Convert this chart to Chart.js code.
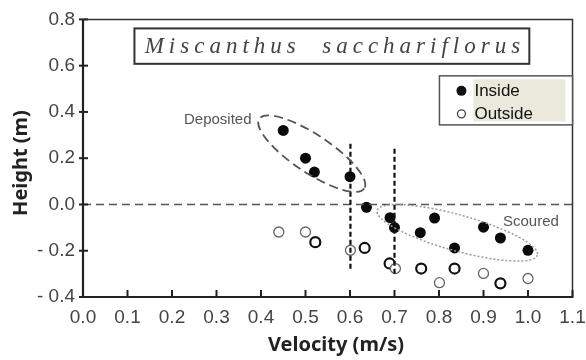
<!DOCTYPE html>
<html>
<head>
<meta charset="utf-8">
<script src="https://cdn.jsdelivr.net/npm/chart.js@4"></script>
<style>
  html, body { margin: 0; padding: 0; background: #fff; }
  #wrap { width: 586px; height: 360px; }
</style>
</head>
<body>
<div id="wrap"><canvas id="myChart" width="586" height="360"></canvas></div>
<script>
// ===== Data =====
const insideX  = [0.45, 0.50, 0.52, 0.60, 0.637, 0.69, 0.70, 0.758, 0.79, 0.835, 0.90, 0.938, 1.00];
const insideY  = [0.32, 0.20, 0.14, 0.12, -0.012, -0.057, -0.10, -0.122, -0.059, -0.188, -0.098, -0.145, -0.198];
const outsideX = [0.44, 0.50, 0.522, 0.601, 0.633, 0.689, 0.702, 0.76, 0.801, 0.835, 0.90, 0.938, 1.00];
const outsideY = [-0.119, -0.119, -0.163, -0.198, -0.188, -0.255, -0.277, -0.277, -0.338, -0.277, -0.298, -0.341, -0.320];

const xTickLabels = ["0.0", "0.1", "0.2", "0.3", "0.4", "0.5", "0.6", "0.7", "0.8", "0.9", "1.0", "1.1"];
const yTickLabels = ["- 0.4", "- 0.2", "0.0", "0.2", "0.4", "0.6", "0.8"];

const seriesNames = ["Inside", "Outside"];
const plantName = "Miscanthus  sacchariflorus";

// open circles drawn with a heavier black ring in the original
const heavyOutside = [2, 4, 5, 7, 9, 11];

const toPoints = (xs, ys) => xs.map((x, i) => ({ x: x, y: ys[i] }));

// ===== Annotation plugin: frame, ticks, guide lines, ellipses, boxes, labels =====
const overlay = {
  id: 'overlay',
  afterDraw(chart) {
    const c = chart.ctx, a = chart.chartArea;
    const sx = chart.scales.x, sy = chart.scales.y;
    const px = v => sx.getPixelForValue(v), py = v => sy.getPixelForValue(v);
    c.save();

    // zero line
    c.strokeStyle = '#555'; c.lineWidth = 1.5; c.setLineDash([8, 5]);
    c.beginPath(); c.moveTo(a.left, py(0)); c.lineTo(a.right, py(0)); c.stroke();

    // vertical dashed guides
    c.strokeStyle = '#111'; c.lineWidth = 2.2; c.setLineDash([5, 3]);
    [[0.601, 0.262, -0.288], [0.70, 0.241, -0.31]].forEach(g => {
      c.beginPath(); c.moveTo(px(g[0]), py(g[1])); c.lineTo(px(g[0]), py(g[2])); c.stroke();
    });

    // ellipses given by major-axis end points (data) and half width (px)
    function ellipse(x1, y1, x2, y2, half, color, dash, w) {
      const ax = px(x1), ay = py(y1), bx = px(x2), by = py(y2);
      const cx = (ax + bx) / 2, cy = (ay + by) / 2;
      const r = Math.hypot(bx - ax, by - ay) / 2;
      c.strokeStyle = color; c.lineWidth = w; c.setLineDash(dash);
      c.beginPath(); c.ellipse(cx, cy, r, half, Math.atan2(by - ay, bx - ax), 0, Math.PI * 2); c.stroke();
    }
    ellipse(0.396, 0.370, 0.632, 0.069, 19, '#555', [9, 5], 1.8);
    ellipse(0.661, -0.026, 1.021, -0.219, 18, '#999', [2, 2], 1.5);
    c.setLineDash([]);

    // text labels
    c.fillStyle = '#555'; c.font = '15px "Liberation Sans", Arial, sans-serif';
    c.textBaseline = 'middle'; c.textAlign = 'left';
    c.fillText('Deposited', 184, 120);
    c.fillText('Scoured', 503, 222);

    // frame: heavy left/bottom, light top/right
    c.strokeStyle = '#333'; c.lineWidth = 1.5;
    c.beginPath(); c.moveTo(a.left, a.top); c.lineTo(a.right, a.top); c.lineTo(a.right, a.bottom); c.stroke();
    c.strokeStyle = '#222'; c.lineWidth = 2.2;
    c.beginPath(); c.moveTo(a.left, a.top); c.lineTo(a.left, a.bottom); c.lineTo(a.right, a.bottom); c.stroke();

    // ticks
    c.lineWidth = 2;
    sx.ticks.forEach(t => { const x = px(t.value); c.beginPath(); c.moveTo(x, a.bottom - 7); c.lineTo(x, a.bottom + 1); c.stroke(); });
    sy.ticks.forEach(t => { const y = py(t.value); c.beginPath(); c.moveTo(a.left - 4, y); c.lineTo(a.left + 5, y); c.stroke(); });

    // species title box
    const tx1 = px(0.1156), tx2 = px(1.003), ty1 = py(0.761), ty2 = py(0.608);
    c.fillStyle = '#fff'; c.fillRect(tx1, ty1, tx2 - tx1, ty2 - ty1);
    c.strokeStyle = '#333'; c.lineWidth = 2; c.strokeRect(tx1, ty1, tx2 - tx1, ty2 - ty1);
    c.fillStyle = '#444'; c.font = 'italic 23px "Liberation Serif", "DejaVu Serif", serif';
    c.letterSpacing = '5px'; c.textAlign = 'center';
    c.fillText(plantName, (tx1 + tx2) / 2 + 3, (ty1 + ty2) / 2 + 1);
    c.letterSpacing = '0px';

    // legend box
    const lx1 = px(0.801), ly1 = py(0.556), ly2 = py(0.344);
    c.fillStyle = '#fff'; c.fillRect(lx1, ly1, a.right - lx1, ly2 - ly1);
    c.fillStyle = '#ebe8dc'; c.fillRect(lx1 + 34, ly1 + 3.5, 92, ly2 - ly1 - 7);
    c.strokeStyle = '#555'; c.lineWidth = 1.5; c.strokeRect(lx1, ly1, a.right - lx1, ly2 - ly1);
    c.fillStyle = '#111'; c.beginPath(); c.arc(lx1 + 22, ly1 + 15, 5, 0, Math.PI * 2); c.fill();
    c.strokeStyle = '#444'; c.lineWidth = 1.3; c.beginPath(); c.arc(lx1 + 22, ly1 + 38, 4, 0, Math.PI * 2); c.stroke();
    c.fillStyle = '#111'; c.font = '17px "Liberation Sans", Arial, sans-serif'; c.textAlign = 'left';
    c.fillText(seriesNames[0], lx1 + 35, ly1 + 15);
    c.fillText(seriesNames[1], lx1 + 35, ly1 + 38);

    // axis titles
    c.fillStyle = '#222'; c.font = 'bold 20px "Noto Sans", "Open Sans", sans-serif'; c.textAlign = 'center';
    c.fillText('Velocity (m/s)', 336, 345);
    c.translate(21, 163); c.rotate(-Math.PI / 2);
    c.fillText('Height (m)', 0, 0);
    c.restore();
  }
};

// ===== Chart.js Initialization =====
let ctx = document.getElementById('myChart').getContext('2d');
let chart = new Chart(ctx, {
  type: 'scatter',
  data: {
    datasets: [{
      label: seriesNames[0],
      data: toPoints(insideX, insideY),
      backgroundColor: '#0a0a0a',
      borderColor: '#0a0a0a',
      pointRadius: 5.5,
      pointBorderWidth: 0
    }, {
      label: seriesNames[1],
      data: toPoints(outsideX, outsideY),
      backgroundColor: '#fff',
      borderColor: c => heavyOutside.includes(c.dataIndex) ? '#111' : '#666',
      pointRadius: 5,
      pointBorderWidth: c => heavyOutside.includes(c.dataIndex) ? 2.2 : 1.3
    }]
  },
  options: {
    responsive: false,
    animation: false,
    layout: { padding: { left: 0, right: 0, top: 17, bottom: 0 } },
    plugins: { legend: { display: false }, tooltip: { enabled: false } },
    scales: {
      x: {
        type: 'linear', min: 0, max: 1.1,
        afterFit: s => { s.height = 63; s.paddingRight = 13.5; },
        border: { display: false },
        grid: { display: false, drawTicks: false },
        ticks: {
          stepSize: 0.1, padding: 9, color: '#444',
          font: { family: '"Liberation Sans", Arial, sans-serif', size: 19 },
          callback: (v, i) => xTickLabels[i]
        }
      },
      y: {
        type: 'linear', min: -0.4, max: 0.8,
        afterFit: s => { s.width = 83; },
        border: { display: false },
        grid: { display: false, drawTicks: false },
        ticks: {
          stepSize: 0.2, padding: 8, color: '#444',
          font: { family: '"Liberation Sans", Arial, sans-serif', size: 19 },
          callback: (v, i) => yTickLabels[i]
        }
      }
    }
  },
  plugins: [overlay]
});
</script>
</body>
</html>
